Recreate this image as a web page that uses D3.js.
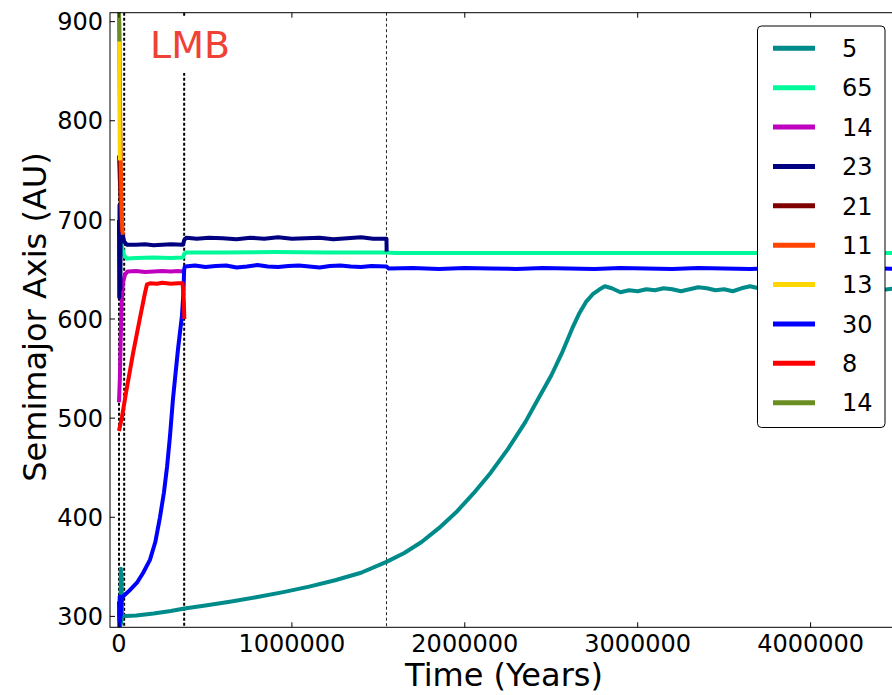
<!DOCTYPE html>
<html>
<head>
<meta charset="utf-8">
<script src="https://cdn.jsdelivr.net/npm/d3@7"></script>
<style>
html,body{margin:0;padding:0;background:#fff;}
svg{display:block;font-family:"DejaVu Sans",sans-serif;}
</style>
</head>
<body>
<svg id="chart" width="892" height="695"></svg>
<script>
// ---------- DATA ----------
const legendLabels = ["5","65","14","23","21","11","13","30","8","14"];
const seriesColors = ["#008b8b","#00fa9a","#bf00bf","#000080","#800000","#ff4500","#ffd700","#0000ff","#ff0000","#6b8e23"];
const xTicks = [0, 1000000, 2000000, 3000000, 4000000];
const yTicks = [300, 400, 500, 600, 700, 800, 900];
const vLines = [0, 30000, 377000, 1547000];
const annotation = "LMB";

// [time (years), semimajor axis (AU)]
const s5 = [[0,305],[3000,296],[6000,312],[9000,291],[11000,348],[13000,293],[15000,342],[17000,298],[20000,301],[25000,300],[40000,300.5],[100000,301],[200000,303],[300000,305.5],[378000,308],[500000,311],[650000,315],[800000,319.5],[950000,324.5],[1100000,330],[1250000,336.5],[1400000,344],[1547000,355],[1650000,364],[1750000,375],[1850000,389],[1950000,405],[2050000,424],[2150000,445],[2250000,469],[2350000,496],[2420000,518],[2500000,543],[2560000,565],[2620000,590],[2660000,605],[2700000,617],[2740000,625],[2780000,630],[2810000,633],[2850000,631],[2900000,627],[2950000,629],[3000000,628],[3050000,630],[3100000,629],[3150000,631],[3200000,630],[3250000,628],[3300000,630],[3350000,632],[3400000,631],[3450000,629],[3500000,630],[3550000,628],[3600000,631],[3650000,633],[3700000,631],[3750000,630],[3800000,632],[3850000,630],[3900000,629],[3950000,631],[4000000,630],[4100000,629],[4200000,631],[4300000,630],[4400000,629],[4500000,631],[4600000,630],[4700000,629],[4800000,630],[4900000,631],[5000000,630]];
const s65 = [[0,912],[5000,820],[10000,740],[14000,690],[18000,672],[30000,664],[46000,661],[100000,661.5],[200000,662],[300000,661.5],[370000,662],[378000,666],[390000,667],[600000,667],[900000,667.5],[1200000,667],[1547000,667],[1600000,666.5],[2500000,666.5],[3500000,666.5],[5000000,666.5]];
const s14a = [[0,516],[5000,540],[10000,580],[15000,615],[22000,636],[35000,645],[50000,648],[100000,648.5],[150000,647.5],[200000,648],[250000,648.5],[300000,648],[340000,648.5],[372000,648]];
const s23 = [[0,700],[1500,622],[3000,715],[4500,640],[6000,705],[8000,630],[10000,695],[13000,688],[20000,686],[30000,678],[45000,675],[100000,675],[150000,675.5],[200000,674.5],[250000,675],[300000,675.5],[370000,675],[378000,680],[390000,682],[450000,681],[520000,682],[600000,681.5],[680000,680.5],[760000,682],[840000,681],[920000,682.5],[1000000,681],[1080000,681.5],[1160000,682],[1240000,680.5],[1320000,681.5],[1400000,682.5],[1470000,681],[1547000,681],[1548000,668]];
const s21 = [[0,765],[5000,740],[10000,715],[15000,695],[18000,688]];
const s11 = [[0,912],[4000,850],[8000,790],[12000,740],[16000,705],[20000,688],[23000,685]];
const s13 = [[0,912],[1500,860],[3000,800],[4500,770],[5500,760]];
const s30 = [[0,315],[2000,290],[4000,320],[6000,295],[8000,318],[10000,300],[13000,312],[17000,318],[23000,320],[60000,326],[104000,334],[140000,344],[179000,357],[210000,375],[237000,400],[260000,425],[278000,451],[295000,482],[312000,519],[327000,545],[341000,569],[355000,590],[364000,603],[372000,625],[377000,650],[381000,653],[440000,654],[500000,652.5],[560000,653.5],[620000,654],[680000,652],[740000,653],[800000,654.5],[860000,653],[920000,652.5],[980000,653.5],[1040000,654],[1100000,653],[1160000,652],[1220000,653.5],[1280000,654],[1340000,653],[1400000,652.5],[1460000,653.5],[1547000,653],[1560000,651],[1700000,651.5],[1850000,650.5],[2000000,651.5],[2150000,651],[2300000,650.5],[2450000,651.5],[2600000,651],[2750000,650.5],[2900000,651.5],[3050000,651],[3200000,650.5],[3350000,651.5],[3500000,651],[3650000,650.5],[3800000,651.5],[3950000,651],[4100000,650.5],[4250000,651.5],[4400000,651],[4550000,650.5],[4700000,651],[4850000,651.5],[5000000,651]];
const s8 = [[0,487],[17000,501],[40000,525],[81000,565],[120000,600],[150000,626],[162000,635],[180000,636],[220000,635.5],[250000,636.5],[300000,635.5],[340000,636],[368000,636],[375000,618],[378000,600]];
const s14b = [[0,912],[1000,895],[2000,880]];
const allSeries = [s5, s65, s14a, s23, s21, s11, s13, s30, s8, s14b];

// ---------- LAYOUT ----------
const svg = d3.select("#chart");
const L = 110, T = 12.7, B = 627.3, R = 983.5;
const x = d3.scaleLinear().domain([-52000, 5000000]).range([L, R]);
const y = d3.scaleLinear().domain([289, 909]).range([B, T]);

svg.append("defs").append("clipPath").attr("id","plotclip")
  .append("rect").attr("x",L).attr("y",T).attr("width",R-L).attr("height",B-T);

const plot = svg.append("g").attr("clip-path","url(#plotclip)");

// vertical dashed lines
vLines.forEach((v,i) => {
  plot.append("line")
    .attr("x1", x(v)).attr("x2", x(v)).attr("y1", T).attr("y2", B)
    .attr("stroke", i === 3 ? "#222" : "#000")
    .attr("stroke-width", i === 3 ? 1 : 2)
    .attr("stroke-dasharray", i === 3 ? "3,2.5" : "3,2");
});

// annotation box (white background) + text
plot.append("rect").attr("x",140).attr("y",17).attr("width",100).attr("height",56).attr("fill","#fff");
svg.append("text").attr("x",150).attr("y",58).attr("font-size",38).attr("fill","#ef4136").text(annotation);

// series lines
const line = d3.line().x(d => x(d[0])).y(d => y(d[1]));
allSeries.forEach((s,i) => {
  plot.append("path").datum(s).attr("d", line)
    .attr("fill","none").attr("stroke", seriesColors[i])
    .attr("stroke-width", 4).attr("stroke-linejoin","round");
});

// frame
svg.append("rect").attr("x",L).attr("y",T).attr("width",R-L).attr("height",B-T)
  .attr("fill","none").attr("stroke","#000").attr("stroke-width",1);

// ticks (inward)
xTicks.forEach(v => {
  svg.append("line").attr("x1",x(v)).attr("x2",x(v)).attr("y1",B).attr("y2",B-5).attr("stroke","#000");
  svg.append("line").attr("x1",x(v)).attr("x2",x(v)).attr("y1",T).attr("y2",T+5).attr("stroke","#000");
  svg.append("text").attr("x",x(v)).attr("y",652).attr("text-anchor","middle")
    .attr("font-size",24).attr("fill","#000").text(v);
});
yTicks.forEach(v => {
  svg.append("line").attr("x1",L).attr("x2",L+5).attr("y1",y(v)).attr("y2",y(v)).attr("stroke","#000");
  svg.append("text").attr("x",103).attr("y",y(v)+8.7).attr("text-anchor","end")
    .attr("font-size",24).attr("fill","#000").text(v);
});

// axis titles
svg.append("text").attr("x",504).attr("y",686).attr("text-anchor","middle")
  .attr("font-size",32).attr("fill","#000").text("Time (Years)");
svg.append("text").attr("transform","translate(46,317) rotate(-90)").attr("text-anchor","middle")
  .attr("font-size",32).attr("fill","#000").text("Semimajor Axis (AU)");

// legend
const lg = svg.append("g");
lg.append("rect").attr("x",757.5).attr("y",26).attr("width",127.5).attr("height",401.5)
  .attr("rx",4).attr("fill","#fff").attr("stroke","#000").attr("stroke-width",1);
legendLabels.forEach((lab,i) => {
  const ry = 48.3 + i*39.38;
  lg.append("line").attr("x1",773).attr("x2",815).attr("y1",ry).attr("y2",ry)
    .attr("stroke",seriesColors[i]).attr("stroke-width",5);
  lg.append("text").attr("x",842).attr("y",ry+8.7).attr("font-size",24).attr("fill","#000").text(lab);
});
</script>
</body>
</html>
